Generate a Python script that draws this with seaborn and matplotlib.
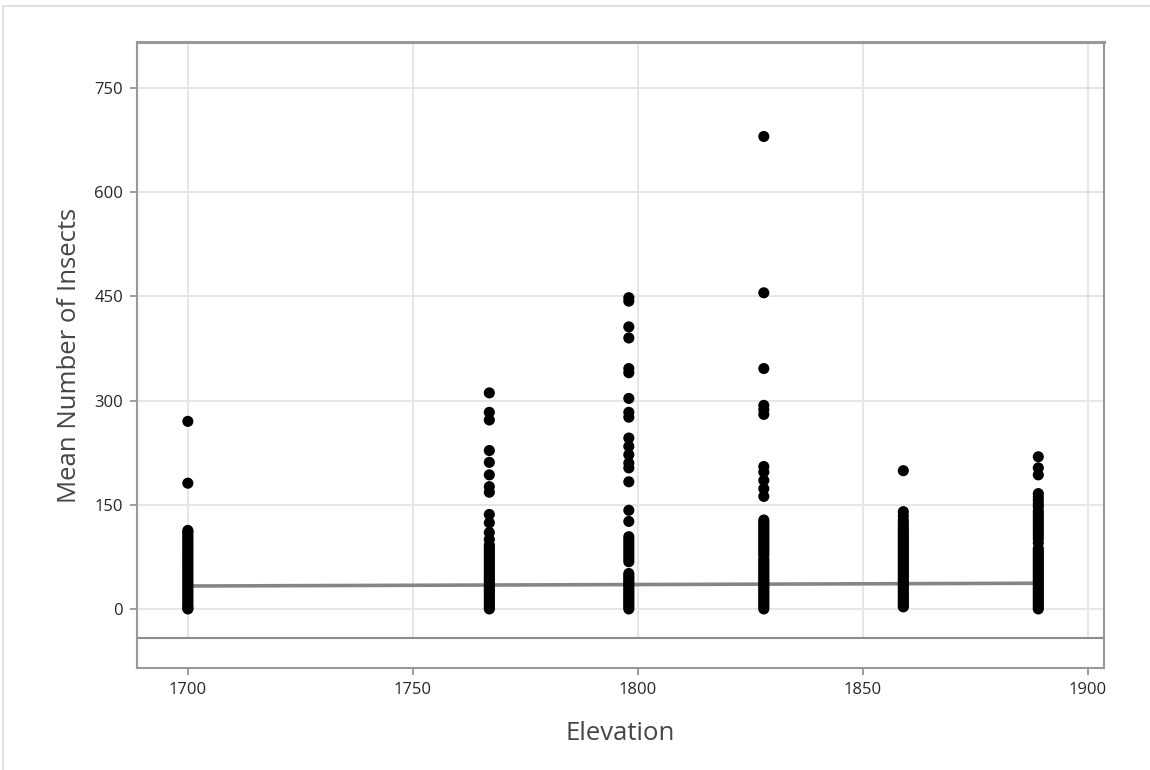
import matplotlib
matplotlib.use("Agg")
import matplotlib.pyplot as plt
import seaborn as sns
import pandas as pd
from matplotlib.patches import Rectangle

# ---- data ----
elev_1700 = [270, 181, 113, 111, 108, 105, 102, 99, 96, 93, 90, 87, 84, 81, 78, 75, 72, 69, 66,
             63, 60, 57, 54, 51, 48, 45, 42, 39, 36, 33, 30, 27, 24, 21, 18, 15, 12, 9, 6, 3, 1, 0]
elev_1767 = [311, 283, 272, 228, 211, 193, 176, 168, 136, 124, 110, 100, 92, 89, 86, 83, 80, 77,
             74, 71, 68, 65, 62, 59, 56, 53, 50, 47, 44, 41, 38, 35, 32, 29, 26, 23, 20, 17, 14,
             11, 8, 5, 2, 0]
elev_1798 = [448, 443, 406, 390, 346, 340, 303, 283, 276, 246, 234, 222, 210, 203, 183, 142, 126,
             104, 100, 96, 92, 88, 84, 80, 76, 72, 68, 51, 48, 45, 42, 39, 36, 33, 30, 27, 24,
             21, 18, 15, 12, 9, 6, 3, 0]
elev_1828 = [680, 455, 346, 293, 287, 280, 205, 197, 185, 173, 162, 128, 125, 122, 119, 116, 113,
             110, 107, 104, 101, 98, 95, 92, 89, 86, 83, 80, 77, 72, 69, 66, 63, 60, 57, 54, 51,
             48, 45, 42, 39, 36, 33, 30, 27, 24, 21, 18, 15, 12, 9, 6, 3, 0]
elev_1859 = [199, 140, 134, 128, 124, 120, 116, 113, 110, 107, 104, 101, 98, 95, 92, 89, 86, 83,
             80, 77, 74, 71, 68, 65, 62, 59, 56, 53, 50, 47, 44, 41, 38, 35, 32, 29, 26, 23, 20,
             17, 14, 11, 8, 5, 3]
elev_1889 = [219, 203, 193, 166, 161, 156, 151, 147, 141, 137, 133, 129, 125, 121, 117, 113, 109,
             105, 101, 95, 87, 84, 81, 78, 75, 72, 69, 66, 63, 60, 57, 54, 51, 48, 45, 42, 39, 36,
             33, 30, 27, 24, 21, 18, 15, 12, 9, 6, 3, 0]

elevations = [1700, 1767, 1798, 1828, 1859, 1889]
insects = [elev_1700, elev_1767, elev_1798, elev_1828, elev_1859, elev_1889]

# fitted line
fit_elev = [1700, 1889]
fit_mean = [33, 37]

x_ticks = [1700, 1750, 1800, 1850, 1900]
y_ticks = [0, 150, 300, 450, 600, 750]

rows = []
for e, vals in zip(elevations, insects):
    for v in vals:
        rows.append({"Elevation": e, "Mean Number of Insects": v})
df = pd.DataFrame(rows)
fit_df = pd.DataFrame({"Elevation": fit_elev, "Fit": fit_mean})

# ---- plot ----
sns.set_theme(style="white")
plt.rcParams["font.family"] = ["Open Sans", "DejaVu Sans"]

fig = plt.figure(figsize=(11.5, 7.7), dpi=100)
fig.patch.set_facecolor("white")
# outer light frame
fig.patches.append(Rectangle((3 / 1150, -0.05), 1.2, (764 / 770) + 0.05,
                             transform=fig.transFigure, fill=False,
                             edgecolor="#dcdcdc", linewidth=1.2, zorder=0))

ax = fig.add_axes([137 / 1150, (770 - 668) / 770, 967 / 1150, 626 / 770])
ax.set_facecolor("white")

ax.set_xlim(1688.7, 1903.6)
ax.set_ylim(-85, 816)

# gridlines
for xv in x_ticks:
    ax.axvline(xv, color="#e6e6e6", linewidth=1.4, zorder=0.5)
for yv in y_ticks:
    ax.axhline(yv, color="#e6e6e6", linewidth=1.4, zorder=0.5)
# blank band below the data region
ax.axhspan(-90, -42, color="white", zorder=0.6)
ax.axhline(-42, color="#8c8c8c", linewidth=1.5, zorder=0.7)

sns.lineplot(data=fit_df, x="Elevation", y="Fit", ax=ax, color="#858585",
             linewidth=2.6, zorder=2)
sns.scatterplot(data=df, x="Elevation", y="Mean Number of Insects", ax=ax,
                color="black", s=64, edgecolor="none", linewidth=0, zorder=3)

ax.set_xticks(x_ticks)
ax.set_yticks(y_ticks)
ax.set_xticklabels([str(t) for t in x_ticks])
ax.set_yticklabels([str(t) for t in y_ticks])
ax.tick_params(axis="both", which="both", direction="out", length=5, width=1.2,
               color="#8c8c8c", labelsize=12, labelcolor="#262626", pad=5,
               left=True, bottom=True)

for s in ax.spines.values():
    s.set_visible(True)
    s.set_color("#999999")
    s.set_linewidth(1.5)
ax.spines["top"].set_linewidth(2.2)

ax.set_xlabel("Elevation", fontsize=18.5, color="#454545", labelpad=17)
ax.set_ylabel("Mean Number of Insects", fontsize=18.5, color="#454545", labelpad=9)

fig.savefig("out.png", dpi=100, facecolor="white")
